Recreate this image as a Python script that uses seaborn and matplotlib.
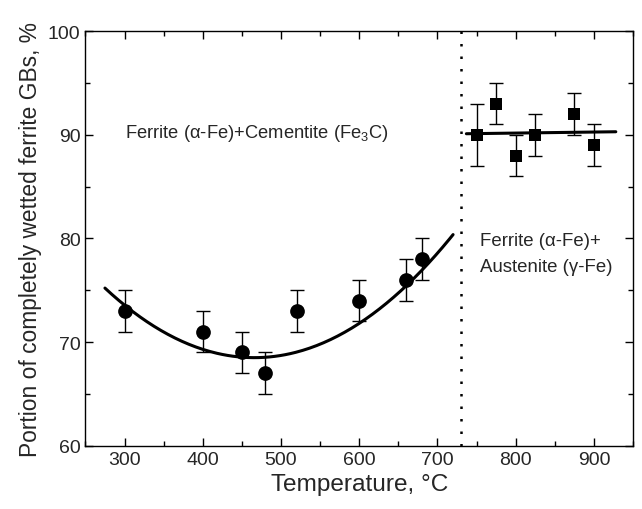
import numpy as np
import pandas as pd
import matplotlib
matplotlib.use('Agg')
import matplotlib.pyplot as plt
from matplotlib.ticker import MultipleLocator
import seaborn as sns

sns.set_theme(style='ticks')
plt.rcParams['font.family'] = ['Liberation Sans', 'DejaVu Sans']
plt.rcParams['mathtext.fontset'] = 'custom'
plt.rcParams['mathtext.rm'] = 'Liberation Sans'

# ferrite + cementite region
t_low = [300, 400, 450, 480, 520, 600, 660, 680]
p_low = [73, 71, 69, 67, 73, 74, 76, 78]
e_low = [2, 2, 2, 2, 2, 2, 2, 2]

# ferrite + austenite region
t_high = [750, 775, 800, 825, 875, 900]
p_high = [90, 93, 88, 90, 92, 89]
e_high = [3, 2, 2, 2, 2, 2]

t_eutectoid = 730

# fit parameters
# low region: parabola p = a*(T - T0)^2 + p0
fit_low_a, fit_low_T0, fit_low_p0 = 1.84e-4, 466, 68.5
fit_low_range = (275, 720)
# high region: straight line p = k*T + b
fit_high_k, fit_high_b = 0.001, 89.365
fit_high_range = (737, 928)

low = pd.DataFrame({'T': t_low, 'P': p_low})
high = pd.DataFrame({'T': t_high, 'P': p_high})

fit_low = pd.DataFrame({'T': np.linspace(*fit_low_range, 200)})
fit_low['P'] = fit_low_a * (fit_low['T'] - fit_low_T0) ** 2 + fit_low_p0
fit_high = pd.DataFrame({'T': np.linspace(*fit_high_range, 50)})
fit_high['P'] = fit_high_k * fit_high['T'] + fit_high_b

fig = plt.figure(figsize=(6.42, 5.1), dpi=100)
ax = fig.add_axes([0.133, 0.124, 0.853, 0.813])

sns.lineplot(data=fit_low, x='T', y='P', color='black', linewidth=2.2, ax=ax)
sns.lineplot(data=fit_high, x='T', y='P', color='black', linewidth=2.2, ax=ax)
ax.errorbar(t_low, p_low, yerr=e_low, fmt='none', ecolor='black', elinewidth=1, capsize=4.7, capthick=1)
ax.errorbar(t_high, p_high, yerr=e_high, fmt='none', ecolor='black', elinewidth=1, capsize=4.7, capthick=1)
sns.scatterplot(data=low, x='T', y='P', marker='o', s=112, color='black', linewidth=0, ax=ax, zorder=5)
sns.scatterplot(data=high, x='T', y='P', marker='s', s=75, color='black', linewidth=0, ax=ax, zorder=5)
ax.axvline(t_eutectoid, color='black', linestyle=(0, (1, 4)), linewidth=1.8)

ax.text(300, 90.2, 'Ferrite (α-Fe)+Cementite (Fe$_3$C)', fontsize=13.2, va='center')
ax.text(754, 79.8, 'Ferrite (α-Fe)+', fontsize=13.4, va='center')
ax.text(754, 77.3, 'Austenite (γ-Fe)', fontsize=13.4, va='center')

ax.set_xlim(250, 950)
ax.set_ylim(60, 100)
ax.xaxis.set_major_locator(MultipleLocator(100))
ax.xaxis.set_minor_locator(MultipleLocator(50))
ax.yaxis.set_major_locator(MultipleLocator(10))
ax.yaxis.set_minor_locator(MultipleLocator(5))
ax.tick_params(which='both', direction='in', top=True, right=True, labelsize=14, width=1, color='black')
ax.tick_params(which='major', length=6)
ax.tick_params(which='minor', length=3.5)
for s in ax.spines.values():
    s.set_linewidth(1)
    s.set_color('black')
ax.set_xlabel('Temperature, °C', fontsize=17.6)
ax.set_ylabel('Portion of completely wetted ferrite GBs, %', fontsize=16.4)

fig.savefig('out.png', dpi=100)
